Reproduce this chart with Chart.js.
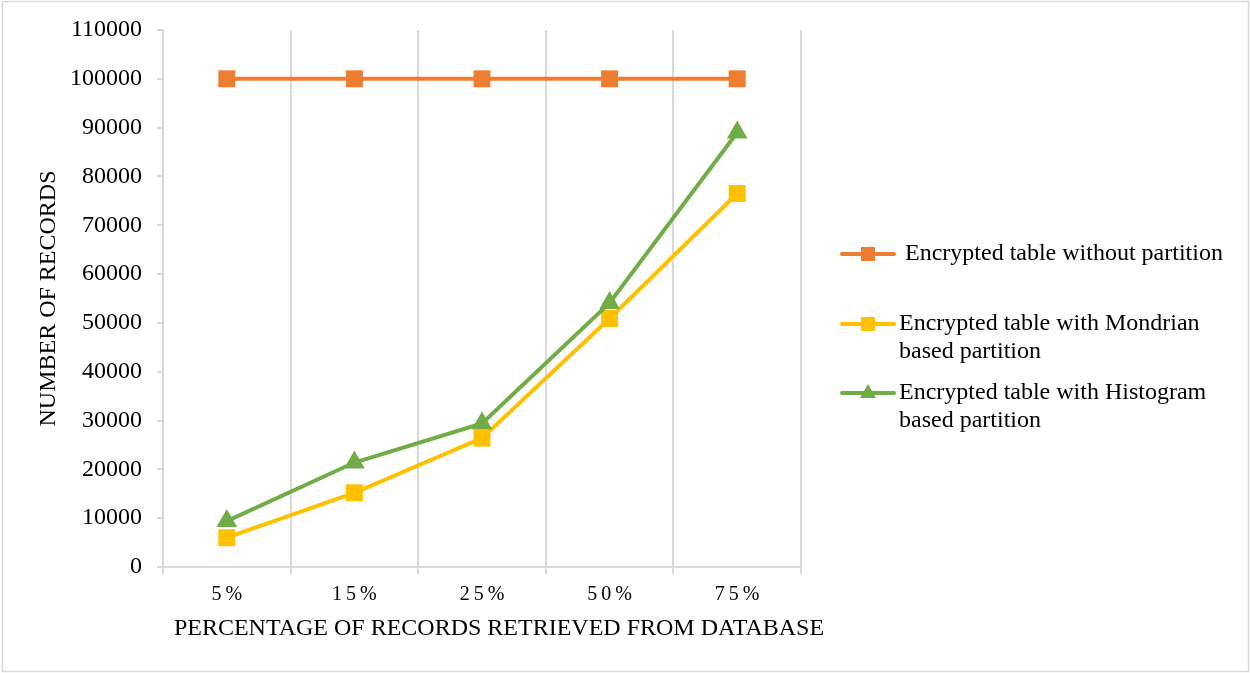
<!DOCTYPE html>
<html>
<head>
<meta charset="utf-8">
<script src="https://cdn.jsdelivr.net/npm/chart.js@4/dist/chart.umd.min.js"></script>
<style>
  html, body { margin: 0; padding: 0; background: #fff; }
</style>
</head>
<body>
<canvas id="chart" width="1250" height="673"></canvas>
<script>
// data
const categories = ['5%', '15%', '25%', '50%', '75%'];
const seriesNames = [
    ' Encrypted table without partition',
    'Encrypted table with Mondrian based partition',
    'Encrypted table with Histogram based partition'
];
const withoutPartition = [100000, 100000, 100000, 100000, 100000];
const mondrianPartition = [6000, 15200, 26400, 50900, 76500];
const histogramPartition = [9400, 21400, 29400, 54100, 89000];
const yMin = 0, yMax = 110000, yStep = 10000;
const xTitle = 'PERCENTAGE OF RECORDS RETRIEVED FROM DATABASE';
const yTitle = 'NUMBER OF RECORDS';

const serif = 'Liberation Serif, Times New Roman, serif';
const gridGrey = '#d9d9d9';
const textColor = '#000';

// frame round the whole picture, plus the x title (excel centres it a bit right of the plot)
const framePlugin = {
    id: 'frame',
    beforeDraw(chart) {
        const ctx = chart.ctx;
        ctx.save();
        ctx.fillStyle = '#fff';
        ctx.fillRect(0, 0, chart.width, chart.height);
        ctx.strokeStyle = gridGrey;
        ctx.lineWidth = 1.5;
        ctx.strokeRect(2.5, 1.5, chart.width - 4, chart.height - 3);
        ctx.restore();
    },
    afterDraw(chart) {
        const ctx = chart.ctx;
        const area = chart.chartArea;
        ctx.save();
        ctx.font = '24px ' + serif;
        ctx.fillStyle = textColor;
        ctx.textAlign = 'center';
        ctx.textBaseline = 'middle';
        ctx.fillText(xTitle, (area.left + area.right) / 2 + 17, area.bottom + 62);
        ctx.restore();
    }
};

// excel style legend: line with marker, wrapped text
const sideLegend = {
    id: 'sideLegend',
    afterDraw(chart, args, opts) {
        const ctx = chart.ctx;
        ctx.save();
        ctx.font = opts.fontSize + 'px ' + serif;
        ctx.textBaseline = 'middle';
        ctx.textAlign = 'left';
        chart.data.datasets.forEach(function (ds, i) {
            const y = opts.itemY[i];
            ctx.strokeStyle = ds.borderColor;
            ctx.lineWidth = 4;
            ctx.lineCap = 'round';
            ctx.beginPath();
            ctx.moveTo(opts.lineX[0], y);
            ctx.lineTo(opts.lineX[1], y);
            ctx.stroke();

            const cx = (opts.lineX[0] + opts.lineX[1]) / 2;
            ctx.fillStyle = ds.borderColor;
            ctx.beginPath();
            if (ds.pointStyle === 'triangle') {
                ctx.moveTo(cx, y - 9);
                ctx.lineTo(cx + 8, y + 5);
                ctx.lineTo(cx - 8, y + 5);
                ctx.closePath();
            } else {
                ctx.rect(cx - 7, y - 7, 14, 14);
            }
            ctx.fill();

            // wrap label
            const words = ds.label.split(' ');
            const lines = [];
            let cur = '';
            words.forEach(function (w, k) {
                const test = k === 0 ? w : cur + ' ' + w;
                if (ctx.measureText(test).width > opts.maxWidth && cur.trim()) {
                    lines.push(cur);
                    cur = w;
                } else {
                    cur = test;
                }
            });
            lines.push(cur);
            ctx.fillStyle = textColor;
            lines.forEach(function (line, k) {
                ctx.fillText(line, opts.textX, y + k * opts.lineHeight);
            });
        });
        ctx.restore();
    }
};

new Chart(document.getElementById('chart'), {
    type: 'line',
    data: {
        labels: categories,
        datasets: [{
            label: seriesNames[0],
            data: withoutPartition,
            borderColor: '#ED7D31',
            backgroundColor: '#ED7D31',
            pointStyle: 'rect',
            order: 2
        }, {
            label: seriesNames[1],
            data: mondrianPartition,
            borderColor: '#FFC000',
            backgroundColor: '#FFC000',
            pointStyle: 'rect',
            order: 1
        }, {
            label: seriesNames[2],
            data: histogramPartition,
            borderColor: '#70AD47',
            backgroundColor: '#70AD47',
            pointStyle: 'triangle',
            pointRadius: 12,
            order: 0
        }]
    },
    options: {
        responsive: false,
        devicePixelRatio: 1,
        animation: false,
        layout: { padding: { top: 30, right: 449, bottom: 0, left: 0 } },
        elements: {
            line: { borderWidth: 4, tension: 0 },
            point: { radius: 12, borderWidth: 0, hoverRadius: 12 }
        },
        plugins: {
            legend: { display: false },
            tooltip: { enabled: false },
            sideLegend: {
                itemY: [254, 324, 393],
                lineX: [842, 894],
                textX: 899,
                lineHeight: 27.5,
                maxWidth: 340,
                fontSize: 24
            }
        },
        scales: {
            x: {
                offset: true,
                grid: { offset: true, color: gridGrey, lineWidth: 2, tickLength: 7 },
                border: { color: gridGrey, width: 2 },
                ticks: {
                    font: { family: serif, size: 20 },
                    color: textColor,
                    padding: 9,
                    maxRotation: 0,
                    callback: function (v, i) { return categories[i].split('').join('\u2009'); }
                },
                afterFit: function (s) { s.height = 106; }
            },
            y: {
                min: yMin,
                max: yMax,
                grid: { drawOnChartArea: false, color: gridGrey, lineWidth: 2, tickLength: 6 },
                border: { color: gridGrey, width: 2 },
                ticks: {
                    stepSize: yStep,
                    font: { family: serif, size: 24 },
                    color: textColor,
                    padding: 15,
                    callback: function (v) { return String(v); }
                },
                title: {
                    display: true,
                    text: yTitle,
                    font: { family: serif, size: 24 },
                    color: textColor,
                    padding: { top: 34, bottom: 0 }
                },
                afterFit: function (s) { s.width = 163; }
            }
        }
    },
    plugins: [framePlugin, sideLegend]
});
</script>
</body>
</html>
